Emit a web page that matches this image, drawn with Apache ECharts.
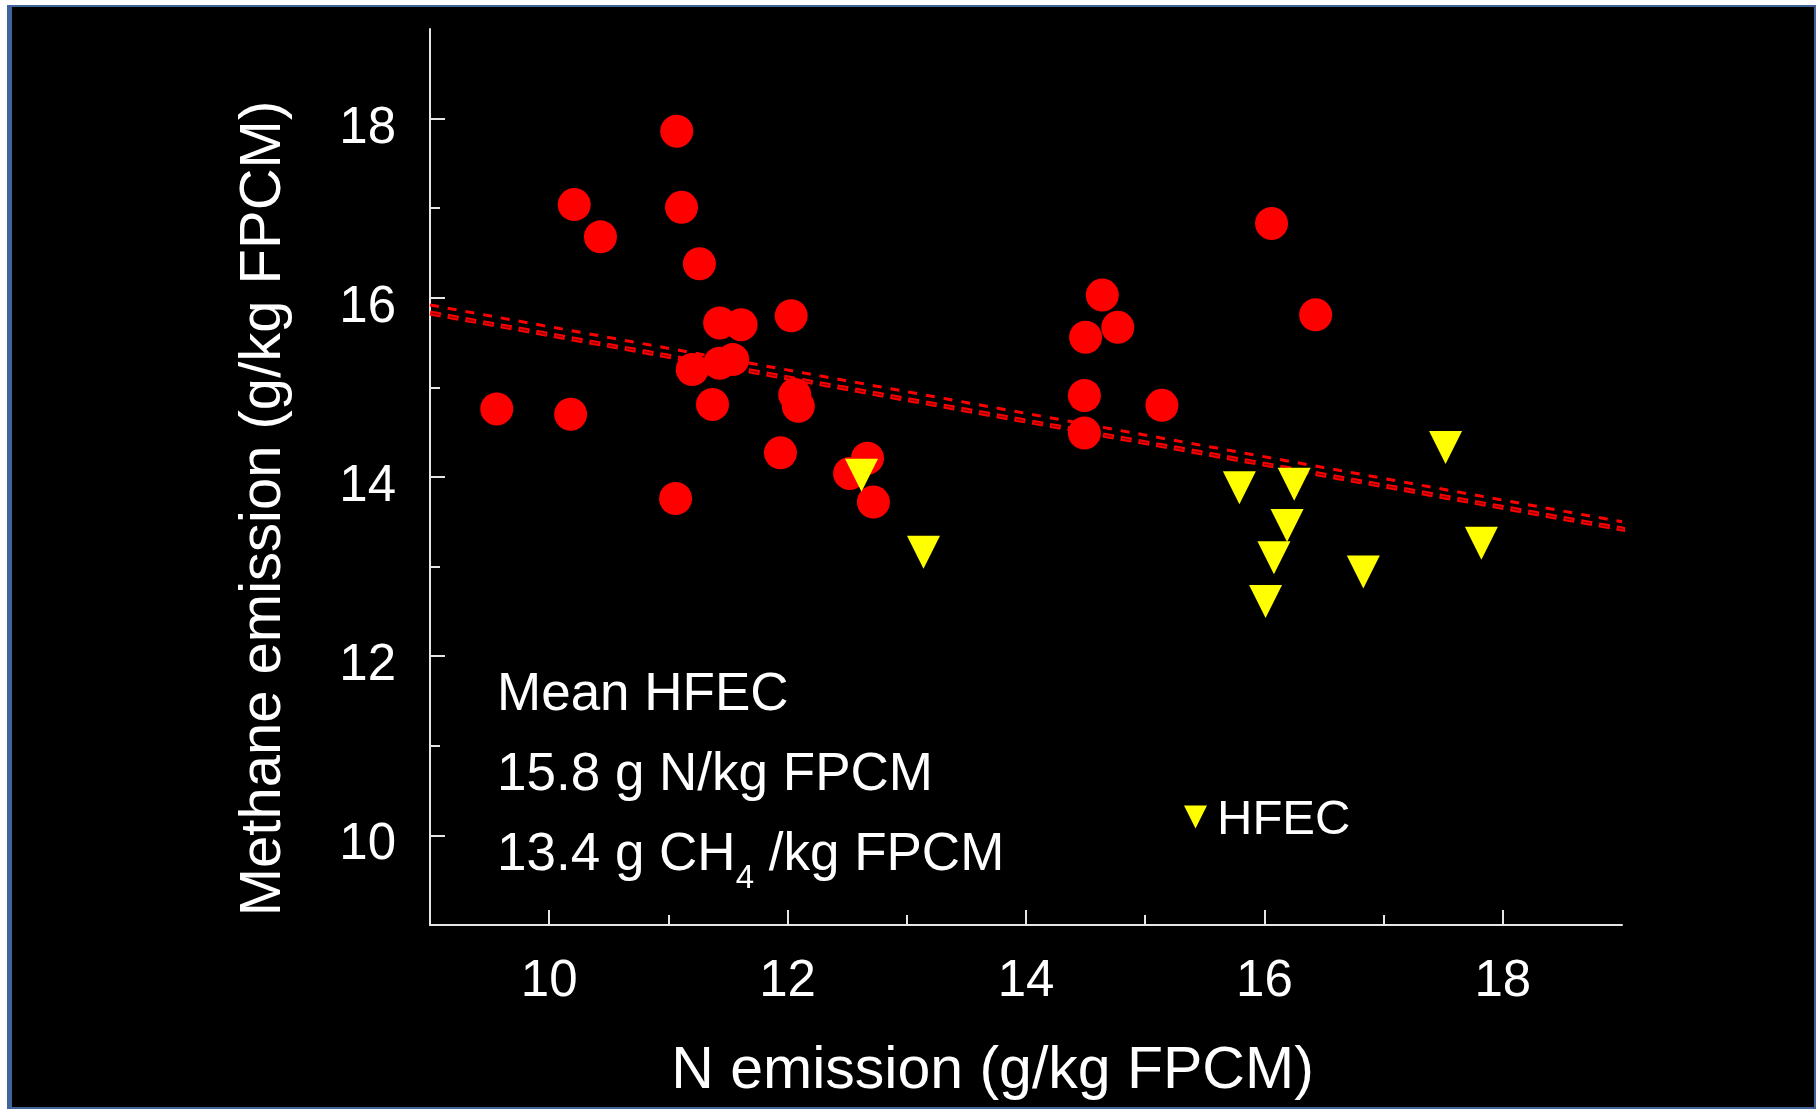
<!DOCTYPE html>
<html>
<head>
<meta charset="utf-8">
<script src="https://cdn.jsdelivr.net/npm/echarts@6/dist/echarts.min.js"></script>
<style>
  html, body { margin: 0; padding: 0; background: #ffffff; }
  #frame { position: absolute; left: 7px; top: 5px; width: 1809px; height: 1104px; box-sizing: border-box;
           background: #000000; border-style: solid; border-color: #41659a; border-width: 2px 2px 2px 5px; }
  #chart { position: absolute; left: 0; top: 0; width: 1816px; height: 1109px; }
</style>
</head>
<body>
<div id="frame"></div>
<div id="chart"></div>
<script>
// ---- data ----
const redX = [9.56, 10.18, 10.21, 10.43, 11.07, 11.11, 11.26, 11.06, 11.20, 11.43, 11.61, 11.43, 11.54, 11.37, 12.03, 12.06, 12.09, 11.94, 12.52, 12.67, 12.72, 14.49, 14.49, 14.50, 14.64, 14.77, 15.14, 16.06, 16.43];
const redY = [14.76, 14.70, 17.04, 16.68, 17.86, 17.01, 16.38, 13.76, 15.20, 15.72, 15.70, 15.27, 15.31, 14.81, 15.80, 14.92, 14.79, 14.27, 14.04, 14.21, 13.72, 14.91, 14.49, 15.56, 16.03, 15.67, 14.80, 16.83, 15.81];
const hfecX = [12.62, 13.14, 15.79, 16.25, 16.19, 16.08, 16.01, 16.83, 17.52, 17.82];
const hfecY = [14.02, 13.16, 13.88, 13.92, 13.46, 13.10, 12.61, 12.94, 14.33, 13.26];
const trendThinX = [9, 19];
const trendThinY = [15.92, 13.50];
const trendThickX = [9, 19.08];
const trendThickY = [15.83, 13.40];
const majorTicks = [10, 12, 14, 16, 18];
const minorTicks = [11, 13, 15, 17];
const xTitle = 'N emission (g/kg FPCM)';
const yTitle = 'Methane emission (g/kg FPCM)';
const noteLines = ['Mean HFEC', '15.8 g N/kg FPCM'];
const noteCH4 = ['13.4 g CH', '4', ' /kg FPCM'];

const pairs = (xs, ys) => xs.map((x, i) => [x, ys[i]]);
const FONT = 'Liberation Sans, Arial, sans-serif';
const AX = '#e6e6e6';
const downTri = 'path://M0,0L10,0L5,10Z';

function mainAxis(extra) {
  return Object.assign({
    type: 'value', min: 9, max: 19,
    axisLine: { show: true, onZero: false, lineStyle: { color: AX, width: 2 } },
    axisTick: { show: true, inside: true, length: 15, customValues: majorTicks, lineStyle: { color: AX, width: 2 } },
    axisLabel: { customValues: majorTicks, color: '#ffffff', fontSize: 51, fontFamily: FONT },
    splitLine: { show: false }
  }, extra);
}
function minorAxis(extra) {
  return Object.assign({
    type: 'value', min: 9, max: 19,
    axisLine: { show: false, onZero: false },
    axisTick: { show: true, inside: true, length: 10, customValues: minorTicks, lineStyle: { color: AX, width: 2 } },
    axisLabel: { show: false },
    splitLine: { show: false }
  }, extra);
}

const chart = echarts.init(document.getElementById('chart'), null, { renderer: 'canvas' });
chart.setOption({
  animation: false,
  backgroundColor: 'transparent',
  grid: { left: 430, right: 194, top: 29, bottom: 184, containLabel: false },
  xAxis: [
    mainAxis({
      position: 'bottom',
      name: xTitle, nameLocation: 'middle', nameGap: 117,
      nameTextStyle: { color: '#ffffff', fontSize: 59, fontFamily: FONT, padding: [0, 67, 0, 0] },
      axisLabel: { customValues: majorTicks, color: '#ffffff', fontSize: 51, fontFamily: FONT, margin: 31 }
    }),
    minorAxis({ position: 'bottom' })
  ],
  yAxis: [
    mainAxis({
      position: 'left',
      name: yTitle, nameLocation: 'middle', nameGap: 137, nameRotate: 90,
      nameTextStyle: { color: '#ffffff', fontSize: 58, fontFamily: FONT, padding: [0, 63, 0, 0] },
      axisLabel: { customValues: majorTicks, color: '#ffffff', fontSize: 51, fontFamily: FONT, margin: 34,
                   verticalAlign: 'top', lineHeight: 20 }
    }),
    minorAxis({ position: 'left' })
  ],
  legend: {
    left: 1184, top: 796, padding: 0,
    itemWidth: 23, itemHeight: 23,
    data: [{ name: 'HFEC', icon: downTri }],
    itemStyle: { opacity: 1 },
    formatter: function (name) { return '{t|' + name + '}'; },
    textStyle: {
      color: '#ffffff', fontSize: 49, fontFamily: FONT, padding: [0, 0, 0, 5],
      rich: { t: { color: '#ffffff', fontSize: 49, fontFamily: FONT, padding: [7, 0, 0, 0], verticalAlign: 'top' } }
    }
  },
  series: [
    {
      name: 'Trend A', type: 'line', data: pairs(trendThinX, trendThinY),
      symbol: 'none', z: 1, silent: true,
      lineStyle: { color: '#ff0000', width: 3, type: [9, 9] }
    },
    {
      name: 'Trend B', type: 'line', data: pairs(trendThickX, trendThickY),
      symbol: 'none', z: 1, clip: false, silent: true,
      lineStyle: { color: '#ff0000', width: 5, type: [11, 7] }
    },
    {
      name: 'Trend B inner', type: 'line', data: pairs(trendThickX, trendThickY),
      symbol: 'none', z: 1, clip: false, silent: true,
      lineStyle: { color: '#a00000', width: 1.5, type: [8, 10], dashOffset: -1.5 }
    },
    {
      name: 'Other', type: 'scatter', data: pairs(redX, redY),
      symbol: 'circle', symbolSize: 33, z: 3,
      itemStyle: { color: '#ff0000', opacity: 1 }
    },
    {
      name: 'HFEC', type: 'scatter', data: pairs(hfecX, hfecY),
      symbol: downTri, symbolSize: 33, symbolKeepAspect: false, z: 4,
      itemStyle: { color: '#ffff00', opacity: 1 }
    }
  ],
  graphic: [
    { type: 'text', x: 497, y: 695, z: 10,
      style: { text: noteLines[0], fill: '#ffffff', fontSize: 53, fontFamily: FONT, verticalAlign: 'middle' } },
    { type: 'text', x: 497, y: 775, z: 10,
      style: { text: noteLines[1], fill: '#ffffff', fontSize: 53, fontFamily: FONT, verticalAlign: 'middle' } },
    { type: 'text', x: 497, y: 855, z: 10,
      style: {
        text: noteCH4[0] + '{s|' + noteCH4[1] + '}' + noteCH4[2],
        fill: '#ffffff', fontSize: 53, fontFamily: FONT, verticalAlign: 'middle',
        rich: { s: { fontSize: 33, fontFamily: FONT, fill: '#ffffff', lineHeight: 33, padding: [34, 0, 0, 0], verticalAlign: 'top' } }
      } }
  ]
});
</script>
</body>
</html>
